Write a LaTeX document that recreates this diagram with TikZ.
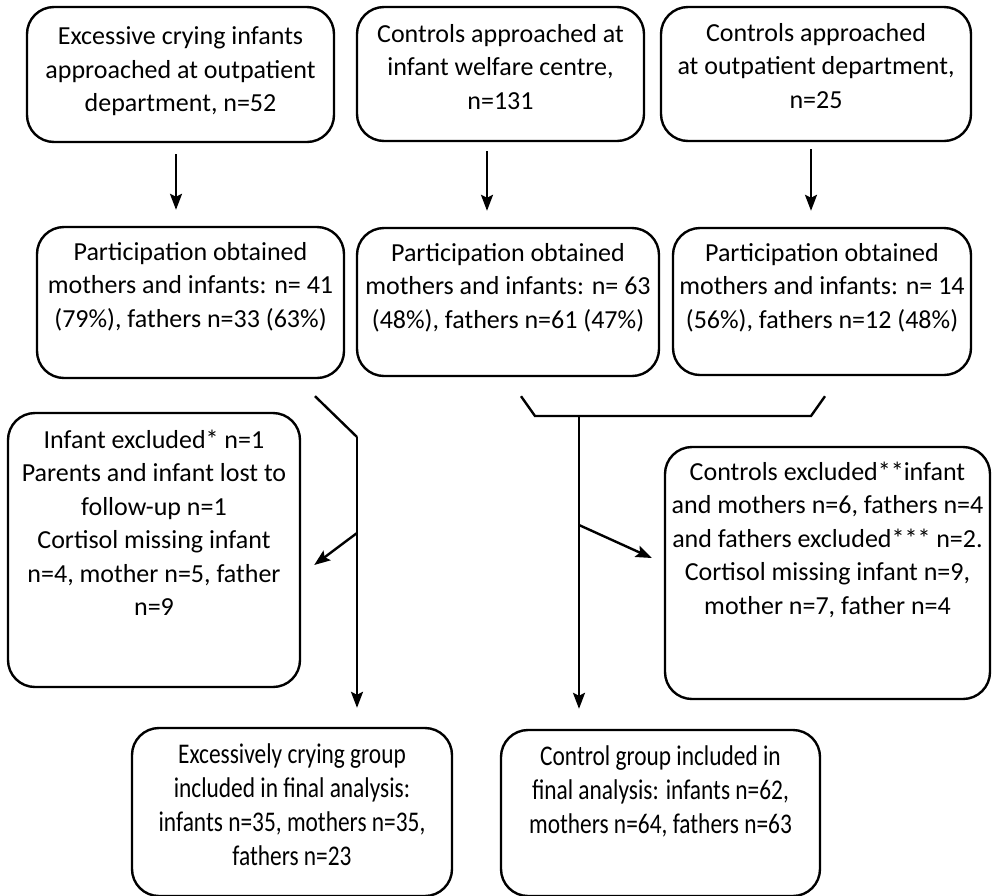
\documentclass[tikz,border=0pt]{standalone}
\usepackage{fontspec}
\setmainfont{Carlito}
\usetikzlibrary{arrows.meta,calc}
\begin{document}
\begin{tikzpicture}
        [
          x=1pt, y=-1pt,
          box/.style={draw, line width=2.4pt, rounded corners=27pt, inner sep=0pt},
          txt/.style={anchor=north, align=center, inner sep=0pt,
                      execute at begin node=\rule{0pt}{20pt},
                      font=\fontsize{26}{33.5}\selectfont},
          narrowtxt/.style={txt, font=\fontsize{28.5}{34}\selectfont\addfontfeature{FakeStretch=0.82}},
          arr/.style={line width=2.4pt, -{Stealth[length=16pt,width=12pt,inset=3pt]}},
          link/.style={line width=2.4pt}
        ]
        \useasboundingbox (0,0) rectangle (992,895);
        % approached
        \node [box, minimum width=307pt, minimum height=135pt] (cryappr) at (180.5,74.5) {};
        \node [box, minimum width=287pt, minimum height=134pt] (welfappr) at (500.5,74) {};
        \node [box, minimum width=310pt, minimum height=134pt] (outappr) at (816,74) {};
        \node [txt] (cryapprtxt) at ([yshift=-21pt]cryappr.north)
          {Excessive crying infants\\approached at outpatient\\department, n=52};
        \node [txt] (welfapprtxt) at ([yshift=-18pt]welfappr.north)
          {Controls approached at\\infant welfare centre,\\n=131};
        \node [txt] (outapprtxt) at ([yshift=-17pt]outappr.north)
          {Controls approached\\at outpatient department,\\n=25};
        % participation
        \node [box, minimum width=307pt, minimum height=151pt] (crypart) at (190.5,302.5) {};
        \node [box, minimum width=302pt, minimum height=148pt] (welfpart) at (508,302) {};
        \node [box, minimum width=298pt, minimum height=147pt] (outpart) at (822,301.5) {};
        \node [txt] (cryparttxt) at ([yshift=-16pt]crypart.north)
          {Participation obtained\\mothers and infants: n= 41\\(79\%), fathers n=33 (63\%)};
        \node [txt] (welfparttxt) at ([yshift=-16pt]welfpart.north)
          {Participation obtained\\mothers and infants: n= 63\\(48\%), fathers n=61 (47\%)};
        \node [txt] (outparttxt) at ([yshift=-16pt]outpart.north)
          {Participation obtained\\mothers and infants: n= 14\\(56\%), fathers n=12 (48\%)};
        % excluded
        \node [box, minimum width=292pt, minimum height=274pt] (cryexcl) at (154,550) {};
        \node [box, minimum width=325pt, minimum height=252pt] (ctrlexcl) at (827.5,573) {};
        \node [txt] (cryexcltxt) at ([yshift=-18pt]cryexcl.north)
          {Infant excluded* n=1\\Parents and infant lost to\\follow-up n=1\\Cortisol missing infant\\n=4, mother n=5, father\\n=9};
        \node [txt] (ctrlexcltxt) at ([yshift=-16pt]ctrlexcl.north)
          {Controls excluded**infant\\and mothers n=6, fathers n=4\\and fathers excluded*** n=2.\\Cortisol missing infant n=9,\\mother n=7, father n=4};
        % final analysis
        \node [box, minimum width=320pt, minimum height=168pt] (crygroup) at (292,812) {};
        \node [box, minimum width=319pt, minimum height=166pt] (ctrlgroup) at (660.5,813) {};
        \node [narrowtxt] (crygrouptxt) at ([yshift=-17pt]crygroup.north)
          {Excessively crying group\\included in final analysis:\\infants n=35, mothers n=35,\\fathers n=23};
        \node [narrowtxt] (ctrlgrouptxt) at ([yshift=-17pt]ctrlgroup.north)
          {Control group included in\\final analysis: infants n=62,\\mothers n=64, fathers n=63};
        % top arrows
        \draw [arr] ($(cryappr.south)+(-4.5,11)$) -- ($(crypart.north)+(-14.5,-16)$);
        \draw [arr] ($(welfappr.south)+(-13.5,9)$) -- ($(welfpart.north)+(-21,-16)$);
        \draw [arr] ($(outappr.south)+(-5,7)$) -- ($(outpart.north)+(-11,-16)$);
        % crying branch
        \coordinate (crybend) at (357,437);
        \coordinate (cryfork) at (357,533);
        \draw [link] ($(crypart.south)+(124.5,17)$) -- (crybend);
        \draw [arr] (crybend) -- ($(crygroup.north)+(65,-19)$);
        \draw [arr] (cryfork) -- ($(cryexcl.east)+(13,15)$);
        % control bracket
        \coordinate (brleft) at (535,416);
        \coordinate (brright) at (811,416);
        \coordinate (ctrlfork) at (579,525);
        \draw [link] ($(welfpart.south)+(13,19)$) -- (brleft) -- (brright)
          -- ($(outpart.south)+(3,20)$);
        \draw [arr] (brleft -| ctrlfork) -- ($(ctrlgroup.north)+(-81.5,-20)$);
        \draw [arr] (ctrlfork) -- ($(ctrlexcl.west)+(-12,-15)$);
\end{tikzpicture}
\end{document}
